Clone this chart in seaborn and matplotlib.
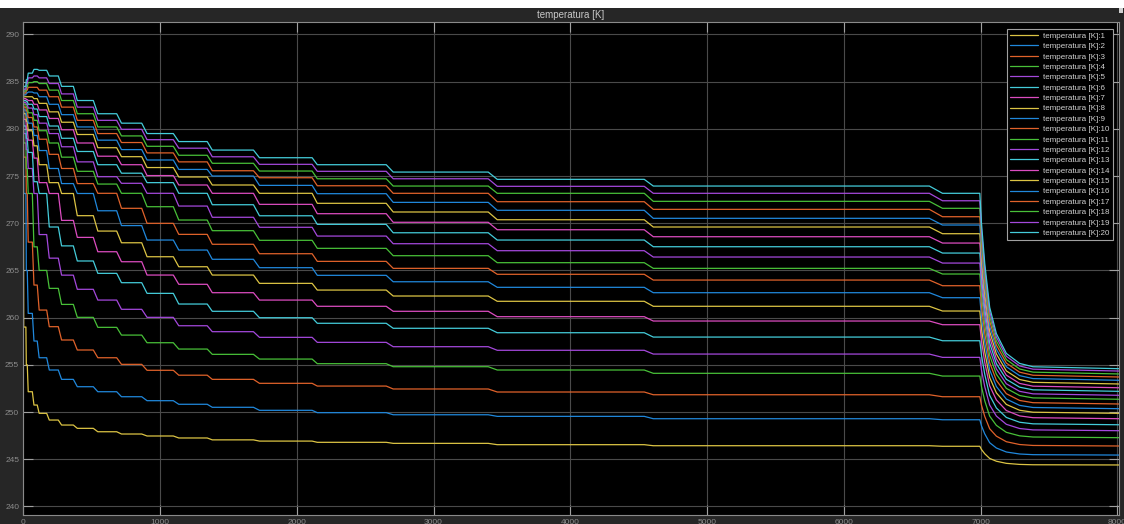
import matplotlib
matplotlib.use("Agg")
import matplotlib.pyplot as plt
from matplotlib.patches import Rectangle
import pandas as pd
import seaborn as sns

# --- data -----------------------------------------------------------------
T_START = 283.15          # initial temperature of every layer [K]
INIT_END = 3              # s, end of the initial jump

# times [s] where the boundary steps (ramp start / ramp end)
STEP_START = [19, 29, 66, 102, 171, 256, 366, 512, 683, 866, 1097, 1345,
              1683, 2112, 2654, 3400, 4541, 6626]
STEP_END = [22, 36, 78, 116, 190, 280, 395, 545, 718, 905, 1137, 1382,
            1727, 2150, 2705, 3466, 4607, 6722]

# temperature level of each layer on every plateau [K]
T01 = [259.0, 255.0, 252.15, 250.74, 249.86, 249.15, 248.62, 248.27, 247.91, 247.67,
       247.46, 247.25, 247.05, 246.92, 246.79, 246.68, 246.54, 246.43, 246.37]
T02 = [273.15, 265.0, 260.45, 257.52, 255.75, 254.45, 253.46, 252.68, 252.15, 251.62,
       251.2, 250.82, 250.5, 250.18, 249.93, 249.71, 249.54, 249.29, 249.18]
T03 = [277.0, 273.15, 268.0, 263.45, 260.8, 259.04, 257.63, 256.57, 255.75, 255.05,
       254.42, 253.9, 253.46, 253.04, 252.75, 252.44, 252.12, 251.83, 251.62]
T04 = [278.5, 275.8, 273.15, 267.5, 265.0, 263.1, 261.4, 260.03, 258.97, 258.15,
       257.34, 256.67, 256.11, 255.61, 255.12, 254.80, 254.45, 254.10, 253.81]
T05 = [279.5, 277.8, 275.8, 273.15, 268.8, 266.3, 264.5, 263.0, 261.86, 260.88,
       260.03, 259.14, 258.51, 257.91, 257.38, 256.92, 256.54, 256.14, 255.79]
T06 = [280.3, 279.0, 277.5, 274.4, 273.15, 269.6, 267.6, 266.0, 264.69, 263.7,
       262.57, 261.44, 260.67, 259.99, 259.40, 258.87, 258.40, 257.94, 257.55]
T07 = [281.0, 280.0, 278.8, 276.9, 274.3, 273.15, 270.3, 268.5, 266.98, 265.92,
       264.51, 263.53, 262.64, 261.86, 261.20, 260.67, 260.10, 259.64, 259.25]
T08 = [281.6, 280.8, 279.8, 278.2, 276.2, 274.3, 273.15, 270.8, 269.17, 267.93,
       266.45, 265.39, 264.51, 263.63, 262.92, 262.29, 261.73, 261.20, 260.70]
T09 = [282.0, 281.4, 280.6, 279.3, 277.7, 275.8, 274.2, 273.15, 271.32, 269.75,
       268.22, 267.16, 266.18, 265.29, 264.48, 263.80, 263.21, 262.64, 262.11]
T10 = [282.3, 281.9, 281.2, 280.2, 278.9, 277.3, 275.8, 274.2, 273.17, 271.58,
       269.99, 268.82, 267.77, 266.77, 265.96, 265.22, 264.59, 263.98, 263.38]
T11 = [282.6, 282.3, 281.7, 280.9, 279.8, 278.5, 277.0, 275.5, 274.15, 273.17,
       271.75, 270.34, 269.21, 268.19, 267.34, 266.56, 265.82, 265.22, 264.62]
T12 = [282.8, 282.6, 282.2, 281.5, 280.6, 279.5, 278.1, 276.5, 274.93, 274.23,
       273.17, 271.82, 270.63, 269.57, 268.64, 267.83, 267.09, 266.42, 265.78]
T13 = [283.0, 282.9, 282.6, 282.1, 281.3, 280.3, 279.0, 277.6, 276.2, 275.3,
       274.3, 273.17, 271.96, 270.79, 269.88, 268.99, 268.22, 267.51, 266.84]
T14 = [283.2, 283.1, 283.0, 282.6, 282.0, 281.1, 279.9, 278.5, 277.1, 276.2,
       275.05, 274.05, 273.17, 272.0, 271.01, 270.10, 269.31, 268.57, 267.90]
T15 = [283.4, 283.4, 283.4, 283.2, 282.7, 281.8, 280.7, 279.4, 278.0, 277.05,
       275.9, 274.9, 274.05, 273.17, 272.11, 271.19, 270.37, 269.60, 268.89]
T16 = [283.6, 283.8, 283.9, 283.8, 283.4, 282.6, 281.5, 280.2, 278.8, 277.8,
       276.7, 275.7, 275.0, 274.01, 273.13, 272.21, 271.37, 270.52, 269.81]
T17 = [283.8, 284.1, 284.4, 284.4, 284.1, 283.4, 282.3, 280.9, 279.5, 278.55,
       277.45, 276.5, 275.56, 274.82, 273.97, 273.17, 272.28, 271.47, 270.69]
T18 = [284.0, 284.4, 284.9, 285.0, 284.8, 284.1, 283.0, 281.6, 280.2, 279.25,
       278.15, 277.2, 276.35, 275.53, 274.71, 273.94, 273.17, 272.32, 271.58]
T19 = [284.2, 284.8, 285.4, 285.6, 285.4, 284.8, 283.7, 282.3, 280.9, 279.95,
       278.85, 277.95, 277.04, 276.24, 275.50, 274.71, 273.91, 273.17, 272.38]
T20 = [284.5, 285.2, 285.9, 286.3, 286.2, 285.6, 284.5, 283.0, 281.6, 280.6,
       279.5, 278.65, 277.75, 276.94, 276.20, 275.42, 274.65, 273.94, 273.17]
LAYERS = [T01, T02, T03, T04, T05, T06, T07, T08, T09, T10,
          T11, T12, T13, T14, T15, T16, T17, T18, T19, T20]

# final temperatures after the cool-down at the end of the run [K]
T_FINAL = [244.39, 245.44, 246.40, 247.28, 248.02, 248.65, 249.29, 249.86, 250.35, 250.85,
           251.35, 251.77, 252.19, 252.57, 252.97, 253.36, 253.71, 254.03, 254.34, 254.59]

# cool-down: time after onset [s] and remaining fraction of the drop
DROP_AT = 6995
DROP_OFFSET = [0, 12, 36, 72, 121, 194, 291, 389, 1020]
DROP_LEFT = [1.0, 0.83, 0.60, 0.35, 0.20, 0.087, 0.03, 0.011, 0.0]

LABELS = [f"temperatura [K]:{k}" for k in range(1, 21)]
COLORS = ["#DCC444", "#2088DC", "#E0622A", "#48C038", "#A448DC", "#44CCDA", "#DC4CC0"]

# --- long table -----------------------------------------------------------
rows = []
for lab, lev, fin in zip(LABELS, LAYERS, T_FINAL):
    t = [0.0, INIT_END]
    v = [T_START, lev[0]]
    for i, (s, e) in enumerate(zip(STEP_START, STEP_END)):
        t += [s, e]
        v += [lev[i], lev[i + 1]]
    for off, left in zip(DROP_OFFSET, DROP_LEFT):
        t.append(DROP_AT + off)
        v.append(fin + left * (lev[-1] - fin))
    rows += [(lab, a, b) for a, b in zip(t, v)]
df = pd.DataFrame(rows, columns=["serie", "t", "T"])

# --- figure ---------------------------------------------------------------
sns.set_style("dark")
plt.rcParams["font.family"] = ["Liberation Sans", "DejaVu Sans"]

W, H = 1124, 524
fig = plt.figure(figsize=(W / 100, H / 100), dpi=100, facecolor="#262626")
ax = fig.add_axes([23.3 / W, 9 / H, (1119.3 - 23.3) / W, (515 - 21.7) / H])
ax.set_facecolor("black")

palette = [COLORS[i % len(COLORS)] for i in range(20)]
sns.lineplot(data=df, x="t", y="T", hue="serie", hue_order=LABELS, palette=palette,
             estimator=None, sort=False, linewidth=0.9, ax=ax)

ax.set_xlim(0, 8015)
ax.set_ylim(239.09, 291.35)
ax.set_xticks(range(0, 8001, 1000))
ax.set_yticks(range(240, 291, 5))
ax.set_xlabel("")
ax.set_ylabel("")
ax.grid(True, color="#4a4a4a", linewidth=0.8)
ax.tick_params(axis="both", which="both", direction="in", length=7, width=0.8,
               color="#a0a0a0", labelcolor="#8c8c8c", labelsize=6, pad=3,
               top=True, right=True, bottom=True, left=True)
for sp in ax.spines.values():
    sp.set_color("#8a8a8a")
    sp.set_linewidth(0.8)

handles, labels = ax.get_legend_handles_labels()
leg = ax.legend(handles, labels, loc="upper right",
                bbox_to_anchor=(1 - 6.6 / 1096, 1 - 7.6 / 493.3), borderaxespad=0,
                fontsize=5.8, labelcolor="#d0d0d0", facecolor="black",
                edgecolor="#a0a0a0", framealpha=1, fancybox=False,
                handlelength=3.5, handletextpad=0.7, labelspacing=0.34,
                borderpad=0.35)
leg.get_frame().set_linewidth(0.8)

# top white strip, title and corner mark of the scope window
fig.patches.append(Rectangle((0, 1 - 8 / H), 1, 8 / H, transform=fig.transFigure,
                             facecolor="white", edgecolor="none", zorder=0))
fig.patches.append(Rectangle((1119 / W, 1 - 13 / H), 4 / W, 5 / H, transform=fig.transFigure,
                             facecolor="#d0d0d0", edgecolor="none"))
fig.text(571 / W, 1 - 14.8 / H, "temperatura [K]", ha="center", va="center",
         color="#c8c8c8", fontsize=7)

fig.savefig("out.png", dpi=100, facecolor=fig.get_facecolor())
